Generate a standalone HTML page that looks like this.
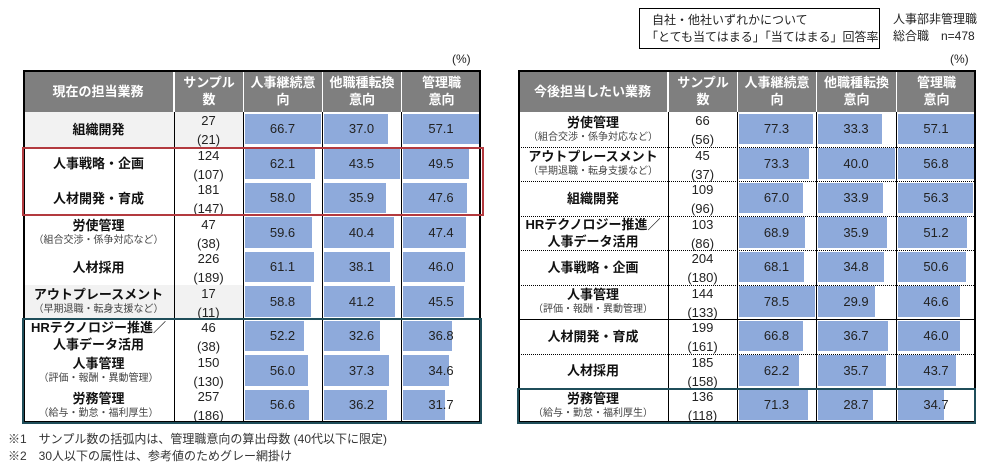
<!DOCTYPE html>
<html><head><meta charset="utf-8">
<style>
body{margin:0;background:#fff;width:1000px;height:470px;position:relative;overflow:hidden;font-family:"Liberation Sans","Noto Sans CJK JP",sans-serif;color:#222}
.a{position:absolute;box-sizing:border-box}
.hd{background:#7f7f7f;color:#fff;font-weight:bold;font-size:13px;display:flex;align-items:center;justify-content:center;text-align:center;line-height:17px}
.lab{display:flex;flex-direction:column;align-items:center;justify-content:center;text-align:center;font-weight:bold;font-size:13px;line-height:17px;color:#111}
.lab small{font-weight:normal;font-size:10px;color:#444;line-height:14px}
.smp{text-align:center;font-size:13px;line-height:19px;color:#222}
.bar{background:#8eaadb}
.val{font-size:13px;text-align:center;color:#222}
.vl{background:#000;width:1px}
</style></head><body>
<div class="a" style="left:639px;top:8px;width:241px;height:41px;border:1px solid #000;font-size:12px;line-height:17px;padding:3px 0 0 12px">自社・他社いずれかについて<br><span style="margin-left:-6px">「とても当てはまる」「当てはまる」回答率</span></div>
<div class="a" style="left:893px;top:11px;font-size:12px;line-height:17px">人事部非管理職<br>総合職　n=478</div>
<div class="a" style="left:452px;top:52px;font-size:12px">(%)</div>
<div class="a" style="left:950px;top:52px;font-size:12px">(%)</div>
<div class="a" style="left:8px;top:430px;font-size:12px;color:#333">※1　サンプル数の括弧内は、管理職意向の算出母数 (40代以下に限定)</div>
<div class="a" style="left:8px;top:447px;font-size:12px;color:#333">※2　30人以下の属性は、参考値のためグレー網掛け</div>
<div id="root"></div>
<script>
const leftLabels=["組織開発","人事戦略・企画","人材開発・育成","労使管理","人材採用","アウトプレースメント","HRテクノロジー推進／人事データ活用","人事管理","労務管理"];
const leftSubs=["","","","（組合交渉・係争対応など）","","（早期退職・転身支援など）","","（評価・報酬・異動管理）","（給与・勤怠・福利厚生）"];
const leftN=[27,124,181,47,226,17,46,150,257];
const leftNm=[21,107,147,38,189,11,38,130,186];
const leftRetain=[66.7,62.1,58.0,59.6,61.1,58.8,52.2,56.0,56.6];
const leftSwitch=[37.0,43.5,35.9,40.4,38.1,41.2,32.6,37.3,36.2];
const leftMgr=[57.1,49.5,47.6,47.4,46.0,45.5,36.8,34.6,31.7];
const rightLabels=["労使管理","アウトプレースメント","組織開発","HRテクノロジー推進／人事データ活用","人事戦略・企画","人事管理","人材開発・育成","人材採用","労務管理"];
const rightSubs=["（組合交渉・係争対応など）","（早期退職・転身支援など）","","","","（評価・報酬・異動管理）","","","（給与・勤怠・福利厚生）"];
const rightN=[66,45,109,103,204,144,199,185,136];
const rightNm=[56,37,96,86,180,133,161,158,118];
const rightRetain=[77.3,73.3,67.0,68.9,68.1,78.5,66.8,62.2,71.3];
const rightSwitch=[33.3,40.0,33.9,35.9,34.8,29.9,36.7,35.7,28.7];
const rightMgr=[57.1,56.8,56.3,51.2,50.6,46.6,46.0,43.7,34.7];
const headers=["サンプル<br>数","人事継続意<br>向","他職種転換<br>意向","管理職<br>意向"];

const root=document.getElementById('root');
function mk(cls,st,html,name){const e=document.createElement('div');e.className='a '+cls;e.style.cssText=st;if(html!==undefined)e.innerHTML=html;


root.appendChild(e);return e;}
const top0=112,rowH=34.5,hTop=70;
function table(side,xs,title,labels,subs,ns,nms,series,gray){
  const bottom=top0+rowH*9;
  mk('hd',`left:${xs[0]}px;top:${hTop}px;width:${xs[1]-xs[0]}px;height:${top0-hTop}px;border-right:1px solid #fff`,title,side+'-header-category');
  headers.forEach((h,i)=>{mk('hd',`left:${xs[i+1]}px;top:${hTop}px;width:${xs[i+2]-xs[i+1]}px;height:${top0-hTop}px;border-left:1px solid #fff`,h,side+'-header-col-'+(i+1));});
  for(let r=0;r<9;r++){
    const y=top0+r*rowH;
    if(gray.includes(r)) mk('',`left:${xs[0]}px;top:${y}px;width:${xs[2]-xs[0]}px;height:${rowH}px;background:#f2f2f2`,'',side+'-gray-row-'+r);
    let lab=labels[r].replace('／','／<br>');
    if(subs[r]) lab+='<small>'+subs[r]+'</small>';
    mk('lab',`left:${xs[0]}px;top:${y}px;width:${xs[1]-xs[0]}px;height:${rowH}px`,lab,side+'-row-label-'+r);
    mk('smp',`left:${xs[1]}px;top:${y-1}px;width:${xs[2]-xs[1]}px;height:${rowH}px`,ns[r]+'<br>('+nms[r]+')',side+'-sample-'+r);
    series.forEach((s,c)=>{
      const max=Math.max(...s);
      const cx=xs[c+2],cw=xs[c+3]-xs[c+2];
      const w=s[r]/max*(cw-3);
      mk('bar',`left:${cx+1.5}px;top:${y+1.5}px;width:${w}px;height:${rowH-4}px`,'',side+'-bar-c'+c+'-r'+r);
      mk('val',`left:${cx}px;top:${y+9}px;width:${cw}px`,s[r].toFixed(1),side+'-value-c'+c+'-r'+r);
    });
    if(side==='right'&&r>0) mk('',`left:${xs[0]}px;top:${y}px;width:${xs[5]-xs[0]}px;height:0;border-top:1px ${r===6||r===8?'solid':'dotted'} #000`,'',side+'-row-line-'+r);
  }
  for(let i=1;i<5;i++) mk('vl',`left:${xs[i]}px;top:${top0}px;height:${bottom-top0}px`,'',side+'-col-line-'+i);
  mk('',`left:${xs[0]}px;top:${hTop}px;width:${xs[5]-xs[0]}px;height:${bottom-hTop}px;border:2px solid #000`,'',side+'-table-border');
}
table('left',[23,174,243,322,401,481],'現在の担当業務',leftLabels,leftSubs,leftN,leftNm,[leftRetain,leftSwitch,leftMgr],[0,5]);
table('right',[518,668,737,816,896,976],'今後担当したい業務',rightLabels,rightSubs,rightN,rightNm,[rightRetain,rightSwitch,rightMgr],[]);
mk('',`left:22px;top:147px;width:462px;height:69px;border:2.5px solid #b33a3f`,'','highlight-red-box');
mk('',`left:22px;top:318px;width:460px;height:106px;border:2.5px solid #1f4e5a`,'','highlight-teal-box-left');
mk('',`left:517px;top:388px;width:459px;height:36px;border:2.5px solid #1f4e5a`,'','highlight-teal-box-right');
</script>
</body></html>
